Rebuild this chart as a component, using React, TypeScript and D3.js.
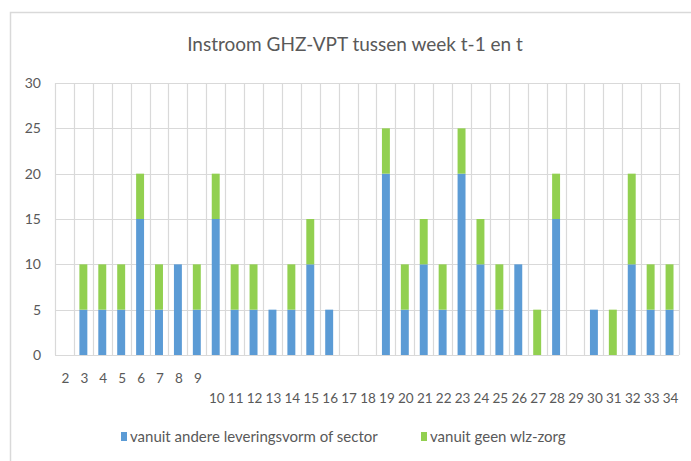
import React from "react";
import * as d3 from "d3";

const weeks = [2,3,4,5,6,7,8,9,10,11,12,13,14,15,16,17,18,19,20,21,22,23,24,25,26,27,28,29,30,31,32,33,34];
const blueValues = [0,5,5,5,15,5,10,5,15,5,5,5,5,10,5,0,0,20,5,10,5,20,10,5,10,0,15,0,5,0,10,5,5];
const greenValues = [0,5,5,5,5,5,0,5,5,5,5,0,5,5,0,0,0,5,5,5,5,5,5,5,0,5,5,0,0,5,10,5,5];
const yTicks = [0,5,10,15,20,25,30];
const seriesNames = ["vanuit andere leveringsvorm of sector", "vanuit geen wlz-zorg"];
const colors = ["#5B9BD5", "#92D050"];

const W = 691, H = 461;
const left = 55, right = 679, top = 83, bottom = 355;
const font = "Lato, 'Open Sans', sans-serif";
const textColor = "#595959";
const grid = "#D9D9D9";

export default function App() {
  const x = d3.scaleBand<number>().domain(weeks).range([left, right]).padding(0);
  const y = d3.scaleLinear().domain([0, 30]).range([bottom, top]);
  const rows = weeks.map((w, i) => ({ week: w, a: blueValues[i], b: greenValues[i] }));
  const stack = d3.stack<any>().keys(["a", "b"]);
  const series = stack(rows);
  const bw = x.bandwidth() * 0.42;

  return (
    <svg width={W} height={H} style={{ position: "absolute", left: 0, top: 0, background: "#fff" }}>
      <rect x={0} y={0} width={W} height={H} fill="#fff" />
      <rect x={10.5} y={12.5} width={W + 10} height={H + 10} fill="none" stroke="#D9D9D9" strokeWidth={1.5} />
      <text x={355} y={51} textAnchor="middle" fontFamily={font} fontSize={19} fill={textColor}>
        Instroom GHZ-VPT tussen week t-1 en t
      </text>
      {yTicks.map((t) => (
        <g key={t}>
          <line x1={left} x2={right} y1={Math.round(y(t)) + 0.5} y2={Math.round(y(t)) + 0.5} stroke={grid} strokeWidth={1.2} />
          <text x={41} y={y(t)} dy="0.35em" textAnchor="end" fontFamily={font} fontSize={14} fill={textColor}>{t}</text>
        </g>
      ))}
      {weeks.concat([-1]).map((w, i) => {
        const xx = i < weeks.length ? x(w)! : right;
        return <line key={"v" + i} x1={Math.round(xx) + 0.5} x2={Math.round(xx) + 0.5} y1={top} y2={bottom} stroke={grid} strokeWidth={1.2} />;
      })}
      {series.map((s, si) => (
        <g key={si} fill={colors[si]}>
          {s.map((d, i) => {
            const h = y(d[0]) - y(d[1]);
            if (h <= 0) return null;
            return <rect key={i} x={x(weeks[i])! + (x.bandwidth() - bw) / 2} y={y(d[1])} width={bw} height={h} />;
          })}
        </g>
      ))}
      {weeks.map((w) => (
        <text key={"l" + w} x={x(w)! + x.bandwidth() / 2 + 1} y={w < 10 ? 378 : 398} dy="0.35em" textAnchor="middle" fontFamily={font} fontSize={13.5} fill={textColor}>{w}</text>
      ))}
      <g fontFamily={font} fontSize={15} fill={textColor}>
        <rect x={121} y={432} width={6} height={9} fill={colors[0]} />
        <text x={130} y={437} dy="0.35em">{seriesNames[0]}</text>
        <rect x={421} y={432} width={6} height={9} fill={colors[1]} />
        <text x={430} y={437} dy="0.35em">{seriesNames[1]}</text>
      </g>
    </svg>
  );
}
